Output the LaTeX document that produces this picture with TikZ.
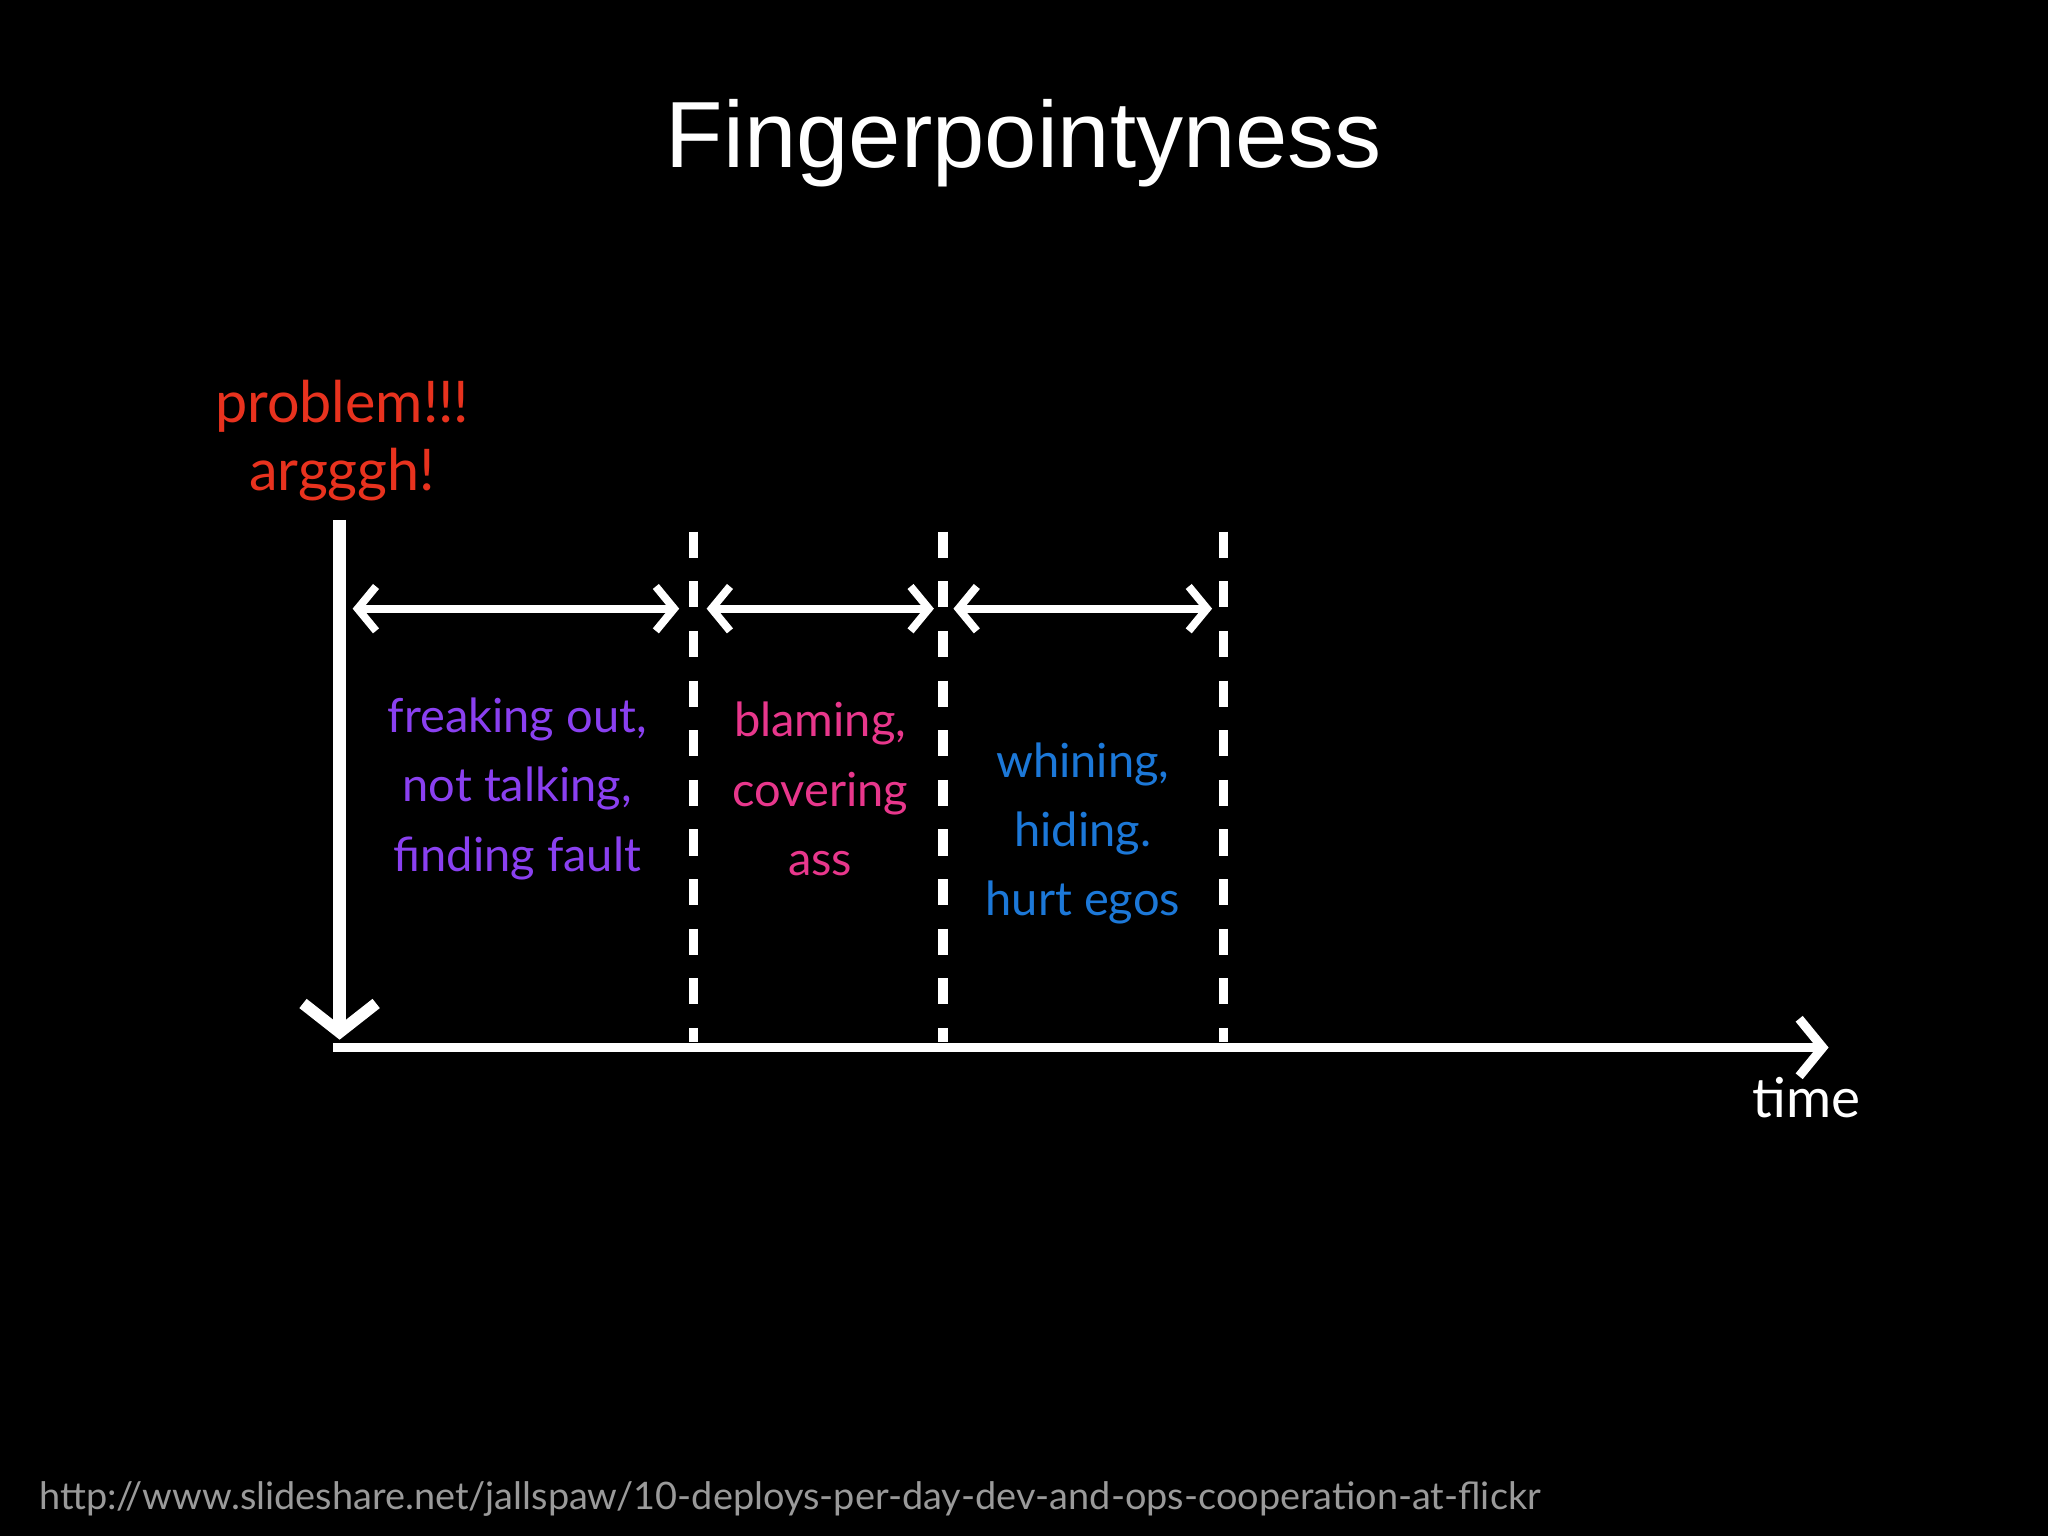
\documentclass[tikz,border=0pt]{standalone}
\usepackage{fontspec}
\setmainfont{Lato}
\newfontfamily\titlefont{Liberation Sans}
\usetikzlibrary{arrows.meta}
\definecolor{cred}{HTML}{E8321E}
\definecolor{cpur}{HTML}{8A40F0}
\definecolor{cpink}{HTML}{E8378C}
\definecolor{cblue}{HTML}{1C78D8}
\definecolor{cgray}{HTML}{9A9A9A}
\tikzset{
  lbl/.style={align=center,font=\fontsize{36}{53}\selectfont,inner sep=0pt},
  thick line/.style={draw=white,line width=7pt},
  chev/.style={-{Straight Barb[length=18pt,width=44pt,line width=7pt]}},
  dbl/.style={draw=white,line width=6pt,{Straight Barb[length=14pt,width=34pt,line width=6pt]}-{Straight Barb[length=14pt,width=34pt,line width=6pt]}},
  dash line/.style={draw=white,line width=7pt,dash pattern=on 20pt off 18pt}
}
\begin{document}
\begin{tikzpicture}[x=1pt,y=-1pt]
\fill[black] (0,0) rectangle (1568,1176);
\useasboundingbox (0,0) rectangle (1568,1176);
\node[font=\titlefont\fontsize{72}{80}\selectfont,text=white] (title) at (784,110) {Fingerpointyness};
\node[lbl,text=cred,font=\fontsize{44}{52}\selectfont] (prob) at (262,337) {problem!!!\\argggh!};
\coordinate (vt) at (260,398); \coordinate (vb) at (260,796);
\draw[thick line,line width=10pt,-{Straight Barb[length=22pt,width=56pt,line width=9pt]}] (vt) -- (vb);
\coordinate (hl) at (255,802); \coordinate (hr) at (1400,802);
\draw[thick line,chev] (hl) -- (hr);
\node[text=white,font=\fontsize{42}{50}\selectfont,inner sep=0pt] (time) at (1383,840) {time};
\foreach \n/\x in {d1/531,d2/722,d3/937}{
  \coordinate (\n t) at (\x,407); \coordinate (\n b) at (\x,798);
  \draw[dash line] (\n t) -- (\n b);
}
\coordinate (a1) at (270,466); \coordinate (a2) at (520,466);
\coordinate (b1) at (541,466); \coordinate (b2) at (715,466);
\coordinate (c1) at (730,466); \coordinate (c2) at (928,466);
\draw[dbl] (a1) -- (a2);
\draw[dbl] (b1) -- (b2);
\draw[dbl] (c1) -- (c2);
\node[lbl,text=cpur] (t1) at (396,604) {freaking out,\\not talking,\\finding fault};
\node[lbl,text=cpink] (t2) at (628,604) {blaming,\\covering\\ass};
\node[lbl,text=cblue] (t3) at (829,638) {whining,\\hiding.\\hurt egos};
\node[anchor=west,text=cgray,font=\fontsize{29}{34}\selectfont,inner sep=0pt] (url) at (30,1148) {http://www.slideshare.net/jallspaw/10-deploys-per-day-dev-and-ops-cooperation-at-flickr};
\end{tikzpicture}
\end{document}
